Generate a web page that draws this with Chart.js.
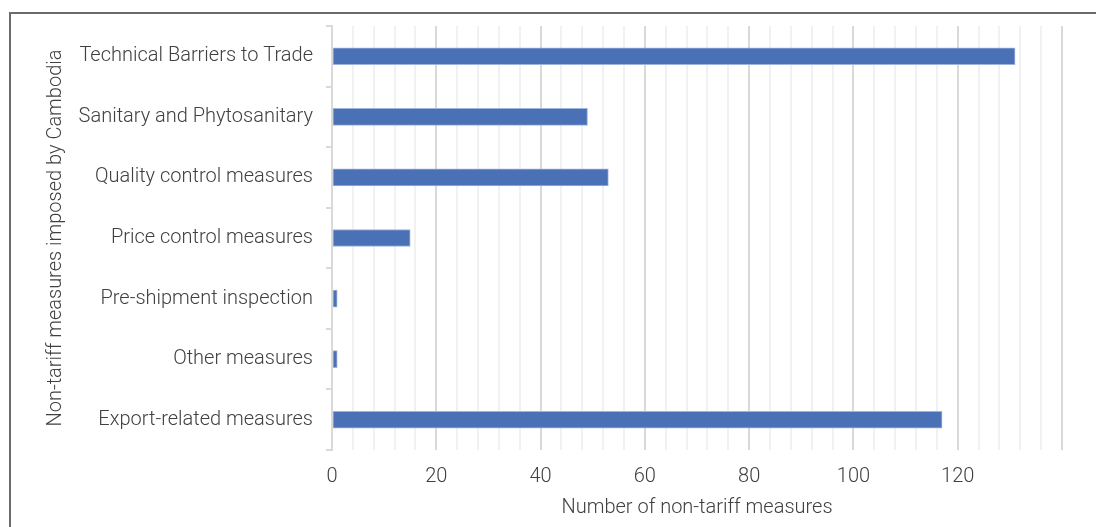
<!DOCTYPE html>
<html>
<head>
<meta charset="utf-8">
<script src="https://cdn.jsdelivr.net/npm/chart.js@4"></script>
<style>
  html, body { margin: 0; padding: 0; background: #fff; }
  #wrap { position: relative; width: 1096px; height: 527px; }
</style>
</head>
<body>
<div id="wrap"><canvas id="ntmChart"></canvas></div>
<script>
// categories and counts of non-tariff measures
const categories = [
  'Technical Barriers to Trade',
  'Sanitary and Phytosanitary',
  'Quality control measures',
  'Price control measures',
  'Pre-shipment inspection',
  'Other measures',
  'Export-related measures'
];
const measureCounts = [131, 49, 53, 15, 1, 1, 117];
const xTickLabels = [0, 20, 40, 60, 80, 100, 120];

const textColor = '#404040';
const labelFont = { family: 'Roboto, "Noto Sans", sans-serif', size: 20, weight: '300' };

// frame line along the top and left edges
const framePlugin = {
  id: 'frame',
  beforeDraw(chart) {
    const ctx = chart.ctx;
    ctx.save();
    ctx.strokeStyle = '#6b6b6b';
    ctx.lineWidth = 2;
    ctx.beginPath();
    ctx.moveTo(1096, 13);
    ctx.lineTo(10, 13);
    ctx.lineTo(10, 527);
    ctx.stroke();
    ctx.restore();
  }
};

const ctx = document.getElementById('ntmChart').getContext('2d');

new Chart(ctx, {
  type: 'bar',
  data: {
    labels: categories,
    datasets: [
      {
        label: 'Number of non-tariff measures',
        data: measureCounts,
        backgroundColor: '#4a71b6',
        borderColor: '#9fb4dc',
        borderWidth: 1,
        borderSkipped: false,
        barThickness: 17
      }
    ]
  },
  options: {
    indexAxis: 'y',
    responsive: true,
    maintainAspectRatio: false,
    animation: false,
    layout: { padding: { left: 44, top: 26, right: 34, bottom: 0 } },
    plugins: {
      legend: { display: false },
      tooltip: { enabled: false }
    },
    scales: {
      x: {
        min: 0,
        max: 140,
        afterFit(scale) { scale.height = 77; },
        afterBuildTicks(scale) {
          const ticks = [];
          for (let v = 0; v <= 140; v += 4) ticks.push({ value: v });
          scale.ticks = ticks;
        },
        grid: {
          color: c => (c.tick && c.tick.value % 20 === 0) ? '#d9d9d9' : '#eef2f2',
          lineWidth: 2,
          tickLength: 0
        },
        border: { display: false },
        ticks: {
          autoSkip: false,
          maxRotation: 0,
          padding: 15,
          color: textColor,
          font: labelFont,
          callback: v => xTickLabels.includes(v) ? String(v) : ''
        },
        title: {
          display: true,
          text: 'Number of non-tariff measures',
          color: textColor,
          font: labelFont,
          padding: { top: 0, bottom: 7 }
        }
      },
      y: {
        afterFit(scale) { scale.width = 288; },
        grid: {
          offset: true,
          drawOnChartArea: false,
          color: '#d9d9d9',
          lineWidth: 2,
          tickLength: 6
        },
        border: { display: true, color: '#d9d9d9', width: 2 },
        ticks: {
          padding: 13,
          color: textColor,
          font: labelFont
        },
        title: {
          display: true,
          text: 'Non-tariff measures imposed by Cambodia',
          color: textColor,
          font: labelFont,
          padding: 0
        }
      }
    }
  },
  plugins: [framePlugin]
});
</script>
</body>
</html>
